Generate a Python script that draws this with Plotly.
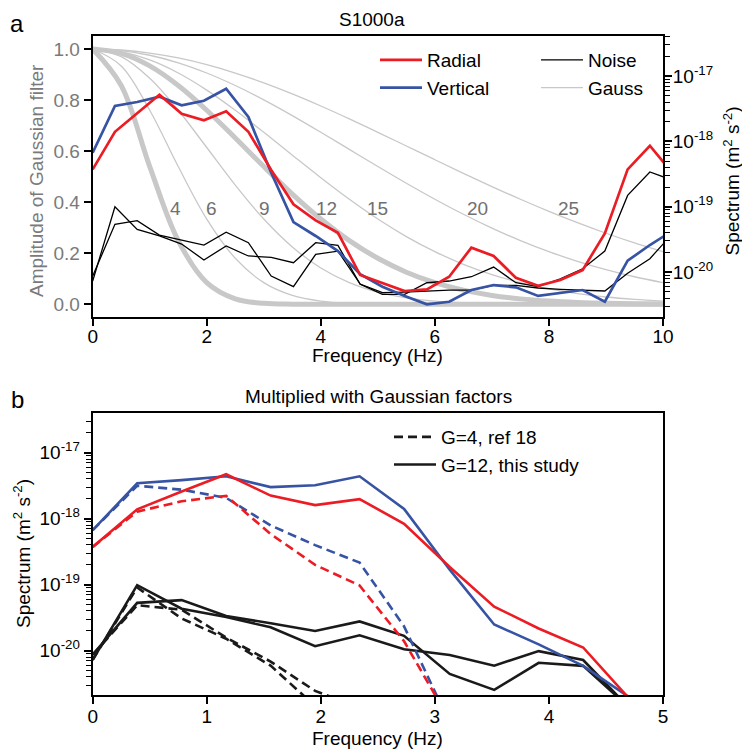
import plotly.graph_objects as go

W, H = 742, 749


def px(x):
    return x / W


def py(y):
    return 1 - y / H


# ---------------- data: panel a ----------------
freq = [0, 0.39, 0.78, 1.17, 1.56, 1.95, 2.34, 2.73, 3.13, 3.52, 3.91, 4.30, 4.69,
        5.08, 5.47, 5.86, 6.25, 6.64, 7.03, 7.42, 7.81, 8.20, 8.59, 8.98, 9.38, 9.77, 10.16]

radial = [3.73e-19, 1.40e-18, 2.69e-18, 5.18e-18, 2.65e-18, 2.10e-18, 2.88e-18, 1.40e-18,
          3.64e-19, 1.09e-19, 6.18e-20, 3.99e-20, 9.00e-21, 6.71e-21, 5.12e-21, 5.43e-21,
          8.47e-21, 2.36e-20, 1.76e-20, 8.18e-21, 6.17e-21, 7.53e-21, 1.07e-20, 3.91e-20,
          3.73e-19, 8.57e-19, 3.30e-19]

vertical = [6.70e-19, 3.48e-18, 4.00e-18, 4.82e-18, 3.56e-18, 4.19e-18, 6.40e-18, 2.36e-18,
            3.31e-19, 5.82e-20, 3.56e-20, 2.09e-20, 9.23e-21, 5.96e-21, 4.30e-21, 3.20e-21,
            3.51e-21, 5.30e-21, 6.32e-21, 5.83e-21, 4.30e-21, 4.82e-21, 5.30e-21, 3.51e-21,
            1.49e-20, 2.59e-20, 4.24e-20]

noise_1 = [7.28e-21, 9.98e-20, 4.50e-20, 3.56e-20, 2.68e-20, 1.53e-20, 2.50e-20, 1.76e-20,
           1.68e-20, 1.39e-20, 2.81e-20, 2.56e-20, 6.49e-21, 4.56e-21, 4.56e-21, 6.85e-21,
           7.28e-21, 8.47e-21, 1.19e-20, 6.85e-21, 5.96e-21, 7.89e-21, 1.12e-20, 2.09e-20,
           1.49e-19, 3.40e-19, 2.56e-19]

noise_2 = [8.69e-21, 5.37e-20, 6.10e-20, 3.68e-20, 3.09e-20, 2.59e-20, 4.06e-20, 2.81e-20,
           8.69e-21, 5.96e-21, 1.87e-20, 2.09e-20, 6.55e-21, 4.82e-21, 4.94e-21, 5.12e-21,
           5.30e-21, 5.30e-21, 6.25e-21, 6.25e-21, 5.69e-21, 5.43e-21, 5.30e-21, 5.12e-21,
           9.55e-21, 1.60e-20, 3.82e-20]

# Gaussian filter amplitudes (G = 4, 6, 9, 12, 15, 20, 25)
gauss_freq = [0, 0.5, 1, 1.5, 2, 2.5, 3, 3.5, 4, 4.5, 5, 5.5, 6, 6.5, 7, 7.5, 8, 8.5, 9, 9.5, 10]
gauss_G = [4, 6, 9, 12, 15, 20, 25]
gauss_4 = [1, 0.8571, 0.5396, 0.2496, 0.0848, 0.0212, 0.0039, 0.0005, 0.0001, 0, 0,
           0, 0, 0, 0, 0, 0, 0, 0, 0, 0]
gauss_6 = [1, 0.9338, 0.7602, 0.5396, 0.3340, 0.1802, 0.0848, 0.0348, 0.0125, 0.0039, 0.0011,
           0.0003, 0.0001, 0, 0, 0, 0, 0, 0, 0, 0]
gauss_9 = [1, 0.9700, 0.8853, 0.7602, 0.6142, 0.4670, 0.3340, 0.2248, 0.1423, 0.0848, 0.0475,
           0.0251, 0.0124, 0.0058, 0.0026, 0.0011, 0.0004, 0.0002, 0.0001, 0, 0]
gauss_12 = [1, 0.9830, 0.9338, 0.8571, 0.7602, 0.6516, 0.5396, 0.4319, 0.3340, 0.2496, 0.1802,
            0.1258, 0.0848, 0.0553, 0.0348, 0.0212, 0.0125, 0.0071, 0.0039, 0.0021, 0.0011]
gauss_15 = [1, 0.9891, 0.9571, 0.9060, 0.8391, 0.7602, 0.6738, 0.5843, 0.4957, 0.4114, 0.3340,
            0.2653, 0.2062, 0.1567, 0.1166, 0.0848, 0.0604, 0.0420, 0.0286, 0.0191, 0.0125]
gauss_20 = [1, 0.9938, 0.9756, 0.9460, 0.9060, 0.8571, 0.8009, 0.7392, 0.6738, 0.6067, 0.5396,
            0.4741, 0.4114, 0.3526, 0.2985, 0.2496, 0.2062, 0.1682, 0.1355, 0.1079, 0.0848]
gauss_25 = [1, 0.9961, 0.9843, 0.9651, 0.9388, 0.9060, 0.8675, 0.8241, 0.7767, 0.7263, 0.6738,
            0.6202, 0.5664, 0.5132, 0.4613, 0.4114, 0.3640, 0.3195, 0.2783, 0.2405, 0.2062]
gauss_vals = [gauss_4, gauss_6, gauss_9, gauss_12, gauss_15, gauss_20, gauss_25]
gauss_label_x = [1.46, 2.08, 3.02, 4.10, 4.99, 6.74, 8.34]
gauss_label_y = 0.375

# ---------------- data: panel b ----------------
freq_b = [0, 0.39, 0.78, 1.17, 1.56, 1.95, 2.34, 2.73, 3.13, 3.52, 3.91, 4.30, 4.69]

radial_g12 = [3.73e-19, 1.39e-18, 2.58e-18, 4.71e-18, 2.24e-18, 1.61e-18, 1.98e-18, 8.39e-19,
              1.86e-19, 4.66e-20, 2.17e-20, 1.12e-20, 2.00e-21]
vertical_g12 = [6.70e-19, 3.44e-18, 3.84e-18, 4.39e-18, 3.01e-18, 3.22e-18, 4.39e-18, 1.41e-18,
                1.69e-19, 2.49e-20, 1.25e-20, 5.90e-21, 2.05e-21]
noise1_g12 = [7.28e-21, 9.86e-20, 4.32e-20, 3.24e-20, 2.26e-20, 1.17e-20, 1.71e-20, 1.05e-20,
              8.59e-21, 5.94e-21, 9.86e-21, 7.23e-21, 1.44e-21]
noise2_g12 = [8.69e-21, 5.31e-20, 5.85e-20, 3.35e-20, 2.61e-20, 1.99e-20, 2.78e-20, 1.68e-20,
              4.45e-21, 2.55e-21, 6.56e-21, 5.90e-21, 1.45e-21]

radial_g4 = [3.73e-19, 1.28e-18, 1.84e-18, 2.22e-18, 5.87e-19, 2.00e-19, 9.73e-20, 1.39e-20, 8.81e-22]
vertical_g4 = [6.70e-19, 3.16e-18, 2.75e-18, 2.07e-18, 7.91e-19, 3.98e-19, 2.16e-19, 2.34e-20, 8.02e-22]
noise1_g4 = [7.28e-21, 9.08e-20, 3.08e-20, 1.52e-20, 5.94e-21, 1.45e-21, 8.43e-22]
noise2_g4 = [8.69e-21, 4.89e-20, 4.18e-20, 1.58e-20, 6.85e-21, 2.46e-21, 1.37e-21]

amp_ticks = [0, 0.2, 0.4, 0.6, 0.8, 1.0]
amp_ticktext = ["0.0", "0.2", "0.4", "0.6", "0.8", "1.0"]
log_ticks = [1e-20, 1e-19, 1e-18, 1e-17]
log_ticktext = ["10<sup>-20</sup>", "10<sup>-19</sup>", "10<sup>-18</sup>", "10<sup>-17</sup>"]
minor_ticks = [m * 10.0 ** e for e in range(-21, -16) for m in range(2, 10)]

# ---------------- styles ----------------
RED = "#ec1c24"
BLUE = "#3653a4"
GRAY = "#c8c8c8"
TXTGRAY = "#7a7a7a"
FONT = "Arial, Liberation Sans, sans-serif"
FS = 19

fig = go.Figure()

# Gauss curves
for g, vals in zip(gauss_G, gauss_vals):
    thick = g in (4, 12)
    fig.add_trace(go.Scatter(
        x=gauss_freq, y=vals, mode="lines", xaxis="x", yaxis="y",
        line=dict(color=GRAY, width=5 if thick else 1.3, shape="spline"),
        name="Gauss", showlegend=(g == 25), legend="legend2", legendrank=2,
        hoverinfo="skip"))

# Noise (top)
fig.add_trace(go.Scatter(x=freq, y=noise_1, mode="lines", xaxis="x", yaxis="y2",
                         line=dict(color="black", width=1.3), name="Noise",
                         legend="legend2", legendrank=1))
fig.add_trace(go.Scatter(x=freq, y=noise_2, mode="lines", xaxis="x", yaxis="y2",
                         line=dict(color="black", width=1.3), name="Noise", showlegend=False))
# Radial / Vertical (top)
fig.add_trace(go.Scatter(x=freq, y=vertical, mode="lines", xaxis="x", yaxis="y2",
                         line=dict(color=BLUE, width=2.7), name="Vertical",
                         legend="legend", legendrank=2))
fig.add_trace(go.Scatter(x=freq, y=radial, mode="lines", xaxis="x", yaxis="y2",
                         line=dict(color=RED, width=2.7), name="Radial",
                         legend="legend", legendrank=1))

# Bottom panel
DASH = "9px,5px"
fig.add_trace(go.Scatter(x=freq_b, y=noise1_g4, mode="lines", xaxis="x2", yaxis="y3",
                         line=dict(color="#1a1a1a", width=2.6, dash=DASH), name="G=4, ref 18",
                         legend="legend3", legendrank=1))
fig.add_trace(go.Scatter(x=freq_b, y=noise2_g4, mode="lines", xaxis="x2", yaxis="y3",
                         line=dict(color="#1a1a1a", width=2.6, dash=DASH), showlegend=False))
fig.add_trace(go.Scatter(x=freq_b, y=noise1_g12, mode="lines", xaxis="x2", yaxis="y3",
                         line=dict(color="#1a1a1a", width=2.6), name="G=12, this study",
                         legend="legend3", legendrank=2))
fig.add_trace(go.Scatter(x=freq_b, y=noise2_g12, mode="lines", xaxis="x2", yaxis="y3",
                         line=dict(color="#1a1a1a", width=2.6), showlegend=False))
fig.add_trace(go.Scatter(x=freq_b, y=vertical_g4, mode="lines", xaxis="x2", yaxis="y3",
                         line=dict(color=BLUE, width=2.6, dash=DASH), showlegend=False))
fig.add_trace(go.Scatter(x=freq_b, y=radial_g4, mode="lines", xaxis="x2", yaxis="y3",
                         line=dict(color=RED, width=2.6, dash=DASH), showlegend=False))
fig.add_trace(go.Scatter(x=freq_b, y=vertical_g12, mode="lines", xaxis="x2", yaxis="y3",
                         line=dict(color=BLUE, width=2.6), showlegend=False))
fig.add_trace(go.Scatter(x=freq_b, y=radial_g12, mode="lines", xaxis="x2", yaxis="y3",
                         line=dict(color=RED, width=2.6), showlegend=False))

XDOM = [px(92.7), px(663)]
axis_common = dict(showgrid=False, zeroline=False, showline=True, linecolor="black",
                   linewidth=2, ticks="outside", ticklen=7, tickwidth=2, tickcolor="black",
                   automargin=False,
                   tickfont=dict(size=FS, color="black", family=FONT))

minor_style = dict(tickmode="array", tickvals=minor_ticks, ticks="outside", ticklen=5,
                   tickwidth=1, tickcolor="black", showgrid=False)

layout_axes = dict(
    xaxis=dict(domain=XDOM, anchor="y", range=[0, 10], tickmode="array",
               tickvals=[0, 2, 4, 6, 8, 10], mirror=True, ticklabelstandoff=-6,
               **axis_common),
    yaxis=dict(domain=[py(316.7), py(36)], anchor="x", range=[-0.0486, 1.051],
               tickmode="array", tickvals=amp_ticks, ticktext=amp_ticktext,
               **{k: v for k, v in axis_common.items() if k != "tickfont"},
               tickfont=dict(size=FS, color=TXTGRAY, family=FONT)),
    yaxis2=dict(overlaying="y", side="right", anchor="x", type="log",
                range=[-20.684, -16.387], tickmode="array", tickvals=log_ticks,
                ticktext=log_ticktext, minor=minor_style, ticklabelstandoff=-3,
                **axis_common),
    xaxis2=dict(domain=XDOM, anchor="y3", range=[0, 5], tickmode="array",
                tickvals=[0, 1, 2, 3, 4, 5], mirror=True, ticklabelstandoff=-4,
                **axis_common),
    yaxis3=dict(domain=[py(695), py(413.3)], anchor="x2", type="log",
                range=[-20.671, -16.403], tickmode="array", tickvals=log_ticks,
                ticktext=log_ticktext, mirror=True, minor=minor_style, **axis_common),
)

legend_common = dict(bgcolor="rgba(0,0,0,0)", borderwidth=0, font=dict(size=FS, color="black", family=FONT),
                     xanchor="left", yanchor="top", traceorder="normal", itemwidth=42,
                     tracegroupgap=0)

annotations = []
for g, lx in zip(gauss_G, gauss_label_x):
    annotations.append(dict(x=lx, y=gauss_label_y, xref="x", yref="y", text=str(g),
                            showarrow=False, font=dict(size=FS, color="#707070", family=FONT)))


def txt(x, y, text, size=FS, color="black", angle=0):
    annotations.append(dict(x=px(x), y=py(y), xref="paper", yref="paper", text=text,
                            showarrow=False, textangle=angle, xanchor="center", yanchor="middle",
                            font=dict(size=size, color=color, family=FONT)))


txt(372, 19.5, "S1000a")
txt(378, 396.5, "Multiplied with Gaussian factors")
txt(377.8, 356, "Frequency (Hz)")
txt(377.8, 738, "Frequency (Hz)")
txt(36, 181, "Amplitude of Gaussian filter", color=TXTGRAY, angle=-90)
txt(731, 181.5, "Spectrum (m<sup>2</sup> s<sup>-2</sup>)", angle=-90)
txt(21.5, 553.5, "Spectrum (m<sup>2</sup> s<sup>-2</sup>)", angle=-90)
txt(16.5, 23.5, "a", size=24)
txt(17.5, 399.5, "b", size=24)

fig.update_layout(
    width=W, height=H, autosize=False,
    margin=dict(l=0, r=0, t=0, b=0),
    paper_bgcolor="white", plot_bgcolor="white",
    font=dict(family=FONT, size=FS, color="black"),
    legend=dict(x=px(375), y=py(41), **legend_common),
    legend2=dict(x=px(536), y=py(41), **legend_common),
    legend3=dict(x=px(389), y=py(418), **legend_common),
    annotations=annotations,
    **layout_axes,
)

fig.write_html("out.html", config={"displayModeBar": False},
               post_script="document.body.style.margin='0px';document.body.style.padding='0px';")
